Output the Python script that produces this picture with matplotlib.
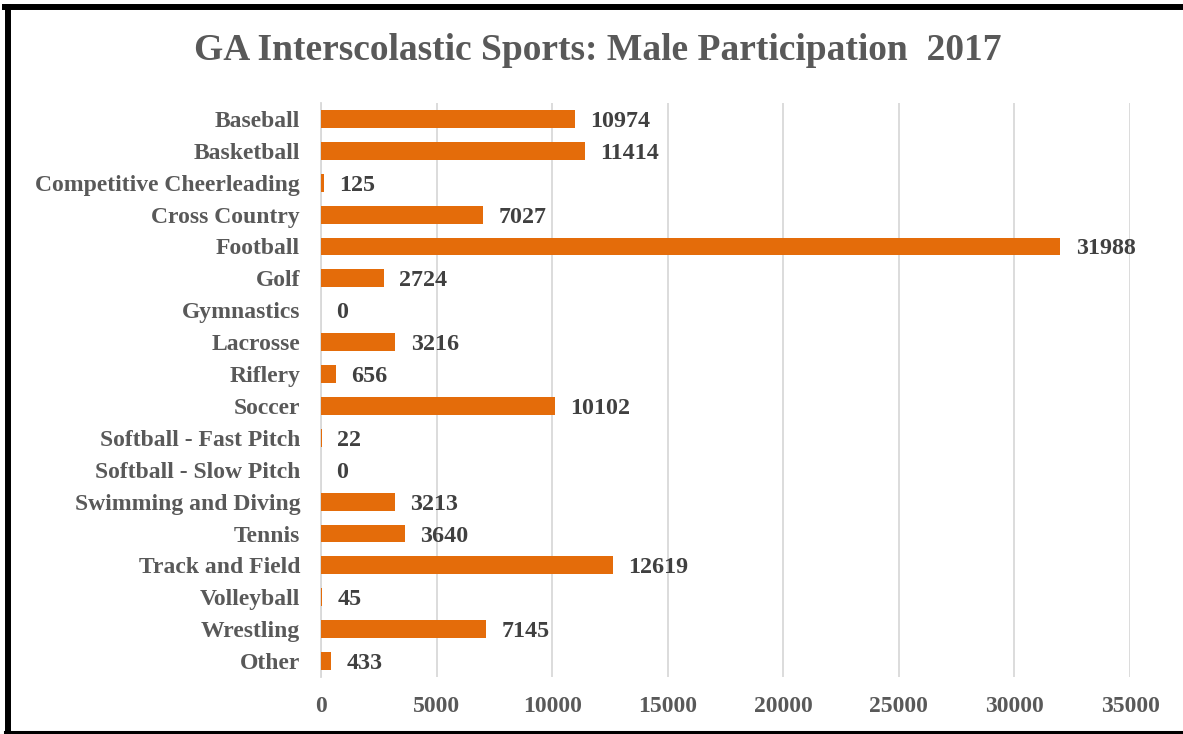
import matplotlib.pyplot as plt
from matplotlib.lines import Line2D

# data
sports = [
    "Baseball",
    "Basketball",
    "Competitive Cheerleading",
    "Cross Country",
    "Football",
    "Golf",
    "Gymnastics",
    "Lacrosse",
    "Riflery",
    "Soccer",
    "Softball - Fast Pitch",
    "Softball - Slow Pitch",
    "Swimming and Diving",
    "Tennis",
    "Track and Field",
    "Volleyball",
    "Wrestling",
    "Other",
]
participants = [10974, 11414, 125, 7027, 31988, 2724, 0, 3216, 656, 10102,
                22, 0, 3213, 3640, 12619, 45, 7145, 433]
x_ticks = [0, 5000, 10000, 15000, 20000, 25000, 30000, 35000]

W, H = 1183, 734
plt.rcParams["font.family"] = ["Liberation Serif", "DejaVu Serif"]
plt.rcParams["font.weight"] = "bold"

fig = plt.figure(figsize=(W / 100, H / 100), dpi=100)
ax = fig.add_axes([321 / W, 1 - 677 / H, 809 / W, 574 / H])

pos = list(range(len(sports)))
ax.barh(pos, participants, height=0.56, color="#E46C0A", zorder=3)

for y, v in zip(pos, participants):
    ax.annotate(str(v), (v, y), xytext=(11, 0), textcoords="offset points",
                va="center_baseline", ha="left", fontsize=17.3,
                fontweight="bold", color="#404040")

ax.set_xlim(0, 35000)
ax.set_ylim(len(sports) - 0.5, -0.5)
ax.set_yticks(pos)
ax.set_yticklabels(sports, fontsize=17, fontweight="bold", color="#595959")
ax.set_xticks(x_ticks)
ax.set_xticklabels([str(t) for t in x_ticks], fontsize=17, fontweight="bold",
                   color="#595959")
ax.tick_params(axis="both", length=0)
ax.tick_params(axis="y", pad=15)
ax.tick_params(axis="x", pad=14)
ax.grid(axis="x", color="#d9d9d9", linewidth=1.3, zorder=0)
for s in ["top", "right", "bottom"]:
    ax.spines[s].set_visible(False)
ax.spines["left"].set_color("#d9d9d9")
ax.spines["left"].set_linewidth(1.3)

fig.text(598 / W, 1 - 50 / H, "GA Interscolastic Sports: Male Participation  2017",
         ha="center", va="center", fontsize=27, fontweight="bold", color="#595959")

# black frame (left, top, bottom)
fig.add_artist(Line2D([8 / W, 8 / W], [1 - 7 / H, 1 - 731.5 / H], color="black",
                      linewidth=4.3, transform=fig.transFigure))
fig.add_artist(Line2D([5 / W, 1], [1 - 7 / H, 1 - 7 / H], color="black",
                      linewidth=4.3, transform=fig.transFigure))
fig.add_artist(Line2D([5 / W, 1], [1 - 731.5 / H, 1 - 731.5 / H], color="black",
                      linewidth=2.2, transform=fig.transFigure))

fig.savefig("out.png", dpi=100)
